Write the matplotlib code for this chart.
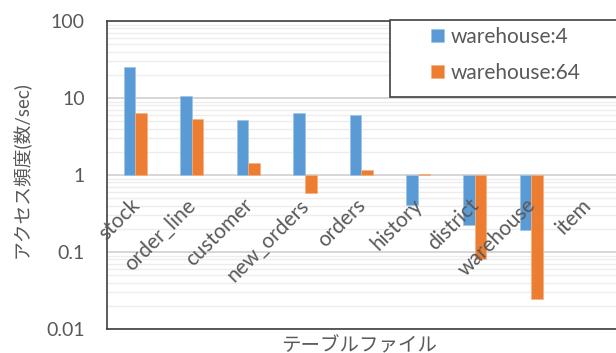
import matplotlib.pyplot as plt
import matplotlib.transforms as mtransforms
from matplotlib.patches import Rectangle
from matplotlib.ticker import LogLocator, FixedLocator, NullFormatter
import numpy as np

tables = ["stock", "order_line", "customer", "new_orders", "orders",
          "history", "district", "warehouse", "item"]
wh4 = [25.5, 10.7, 5.2, 6.4, 6.0, 0.41, 0.222, 0.193, np.nan]
wh64 = [6.4, 5.4, 1.42, 0.59, 1.16, 1.03, 0.080, 0.0243, np.nan]

blue = "#5B9BD5"
orange = "#ED7D31"
txt = "#595959"
frame = "#404040"

plt.rcParams['font.family'] = ['Lato', 'Noto Sans CJK JP', 'DejaVu Sans']

W, H = 616, 353
fig = plt.figure(figsize=(W / 100, H / 100), dpi=100)
ax = fig.add_axes([107 / W, 1 - 329 / H, (616 - 107) / W, (329 - 21) / H])

x = np.arange(len(tables))
w = 0.206
a = np.array(wh4)
b = np.array(wh64)
# bars grow up or down from the value 1 line
h1 = ax.bar(x - w / 2, a - 1, bottom=1, width=w, color=blue, label="warehouse:4",
            edgecolor="#9DC3E6", linewidth=0.5, zorder=3)
h2 = ax.bar(x + w / 2, b - 1, bottom=1, width=w, color=orange, label="warehouse:64",
            edgecolor="#F4B183", linewidth=0.5, zorder=3)

ax.set_yscale('log')
ax.set_ylim(0.01, 100)
ax.set_xlim(-0.5, len(tables) - 0.5)
ax.yaxis.set_major_locator(FixedLocator([0.01, 0.1, 1, 10, 100]))
ax.set_yticklabels(["0.01", "0.1", "1", "10", "100"])
ax.yaxis.set_minor_locator(LogLocator(base=10, subs=np.arange(2, 10)))
ax.yaxis.set_minor_formatter(NullFormatter())
ax.tick_params(axis='y', which='both', length=0, labelsize=14, colors=txt, pad=16)
ax.grid(axis='y', which='major', color="#D0D0D0", linewidth=1.2, zorder=0)
ax.grid(axis='y', which='minor', color="#EDEDED", linewidth=1.0, zorder=0)

# category names sit just under the value 1 line
ax.set_xticks([])
offset = mtransforms.ScaledTranslation(-0.06, -0.2, fig.dpi_scale_trans)
for i, name in enumerate(tables):
    ax.text(i, 1, name, rotation=45, ha='right', va='top',
            rotation_mode='anchor', fontsize=15, color=txt,
            transform=ax.transData + offset)

for side in ['left', 'top', 'bottom']:
    ax.spines[side].set_color(frame)
    ax.spines[side].set_linewidth(1.2)
ax.spines['right'].set_visible(False)

fig.text(21 / W, 1 - 170 / H, "アクセス頻度(数/sec)", fontsize=13.5, color=txt,
         rotation=90, ha='center', va='center')
fig.text(359 / W, 1 - 345 / H, "テーブルファイル", fontsize=14, color=txt,
         ha='center', va='center')

# legend box
fig.patches.append(Rectangle((390 / W, 1 - 97 / H), 240 / W, 77 / H,
                             transform=fig.transFigure, facecolor='white',
                             edgecolor=frame, linewidth=1.2, zorder=4))
leg = fig.legend(handles=[h1, h2], loc='upper left',
                 bbox_to_anchor=(431 / W, 1 - 27 / H), fontsize=15,
                 frameon=False, handlelength=0.62, handleheight=0.62,
                 borderpad=0, labelspacing=0.75, borderaxespad=0,
                 handletextpad=0.3)
for t in leg.get_texts():
    t.set_color(txt)
leg.set_zorder(5)

fig.savefig("out.png", dpi=100)
